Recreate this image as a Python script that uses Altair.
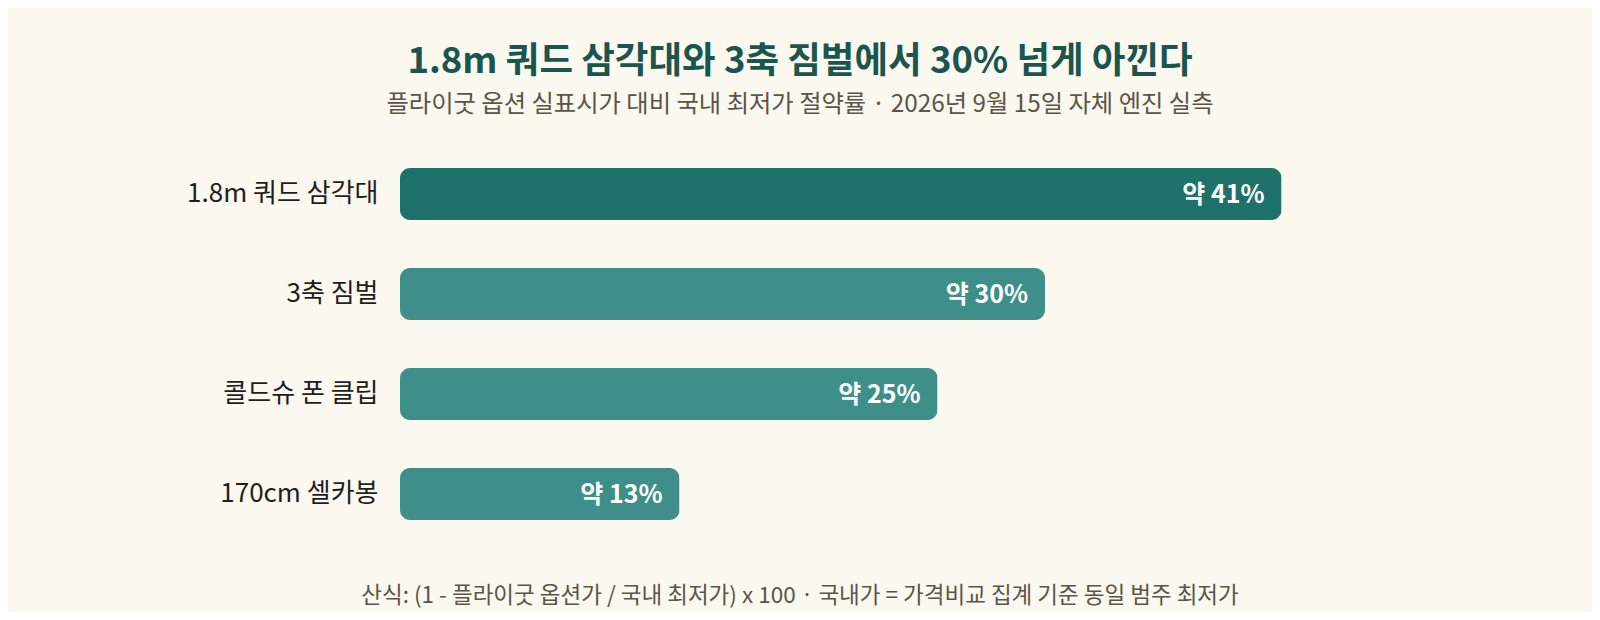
import altair as alt
import pandas as pd

products = ["1.8m 쿼드 삼각대", "3축 짐벌", "콜드슈 폰 클립", "170cm 셀카봉"]
savings = [41, 30, 25, 13]

title = "1.8m 쿼드 삼각대와 3축 짐벌에서 30% 넘게 아낀다"
subtitle = "플라이굿 옵션 실표시가 대비 국내 최저가 절약률 · 2026년 9월 15일 자체 엔진 실측"
footnote = "산식: (1 - 플라이굿 옵션가 / 국내 최저가) x 100 · 국내가 = 가격비교 집계 기준 동일 범주 최저가"

FONT = "Noto Sans CJK KR"
W, H = 1075, 400

df = pd.DataFrame({"product": products, "saving": savings})
df["label"] = ["약 " + str(v) + "%" for v in savings]
df["top"] = df["saving"] == df["saving"].max()

base = alt.Chart(df).encode(
    y=alt.Y(
        "product:N",
        sort=products,
        title=None,
        scale=alt.Scale(paddingInner=0.48, paddingOuter=0.24),
        axis=alt.Axis(
            domain=False,
            ticks=False,
            labelFont=FONT,
            labelFontSize=26,
            labelFontWeight=400,
            labelColor="#1e1e1e",
            labelPadding=22,
            labelLimit=400,
        ),
    ),
    x=alt.X("saving:Q", title=None, axis=None, scale=alt.Scale(domain=[0, 50])),
)

bars = base.mark_bar(cornerRadius=10).encode(
    color=alt.condition(alt.datum.top, alt.value("#1f726a"), alt.value("#3e8f8a"))
)

labels = base.mark_text(
    align="right", baseline="middle", dx=-17, dy=1,
    font=FONT, fontSize=25, fontWeight="bold", color="white",
).encode(text="label:N")

note = alt.Chart(pd.DataFrame({"t": [footnote]})).mark_text(
    align="center", baseline="middle", font=FONT, fontSize=22.5, color="#5c5448",
).encode(text="t:N", x=alt.value(800 - 400), y=alt.value(452))

chart = (
    alt.layer(bars, labels, note)
    .properties(
        width=W,
        height=H,
        autosize=alt.AutoSizeParams(type="none"),
        padding={"left": 392, "top": 136, "right": 1584 - 392 - W, "bottom": 604 - 136 - H},
        title=alt.TitleParams(
            text=title,
            subtitle=subtitle,
            anchor="middle",
            dx=800 - (400 + W / 2),
            offset=27,
            font=FONT,
            fontSize=36.5,
            fontWeight="bold",
            color="#1a554e",
            subtitleFont=FONT,
            subtitleFontSize=24.3,
            subtitleColor="#5c5448",
            subtitlePadding=12,
        ),
    )
    .configure(background="#fbf8f0")
    .configure_view(stroke=None)
)

chart.save("out.html", embed_options={"renderer": "svg", "actions": False})
